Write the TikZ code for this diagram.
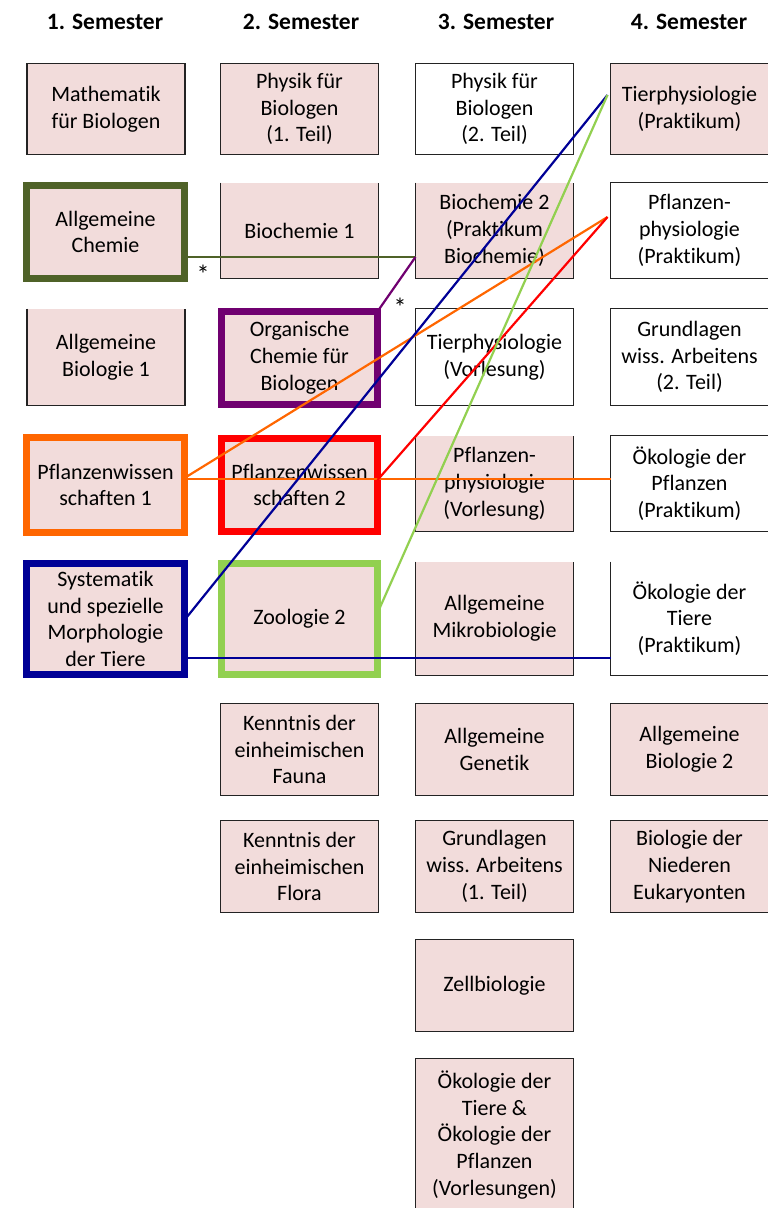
\documentclass[tikz,border=0pt]{standalone}
\usepackage{fontspec}
\setmainfont{Carlito}[Ligatures=NoCommon]
\usetikzlibrary{calc}
\definecolor{pinkfill}{RGB}{242,220,219}
\definecolor{olivec}{RGB}{79,98,40}
\definecolor{purplec}{RGB}{112,0,112}
\definecolor{orangec}{RGB}{255,102,0}
\definecolor{redc}{RGB}{255,0,0}
\definecolor{bluec}{RGB}{0,0,150}
\definecolor{greenc}{RGB}{146,208,80}
\definecolor{edgec}{RGB}{35,35,35}
\begin{document}
\begin{tikzpicture}[x=1pt,y=-1pt,
  every node/.style={inner sep=0pt, outer sep=0pt},
  cell/.style={minimum width=158pt, align=center, font=\fontsize{22}{26.8}\selectfont, text=black},
  pinkbox/.style={cell, fill=pinkfill, draw=edgec, line width=1.3pt},
  whitebox/.style={cell, fill=white, draw=edgec, line width=1.3pt},
  opentop/.style={cell, fill=pinkfill},
  opentopw/.style={cell, fill=white},
  sides/.style={draw=edgec, line width=1.3pt},
  thickbox/.style={cell, fill=pinkfill, draw=#1, line width=7pt},
  head/.style={font=\bfseries\fontsize{23.5}{28}\selectfont},
  star/.style={font=\fontsize{26}{28}\selectfont},
  link/.style={line width=2.2pt},
]
\useasboundingbox (0,0) rectangle (768,1208);

% headers
\node[head] (h1) at (105,22) {1. Semester};
\node[head] (h2) at (301,22) {2. Semester};
\node[head] (h3) at (496,22) {3. Semester};
\node[head] (h4) at (689,22) {4. Semester};

% column 1
\node[pinkbox, minimum height=91pt] (ma) at (106,109) {Mathematik\\für Biologen};
\node[thickbox=olivec, minimum height=93pt] (ac) at (105.5,232) {Allgemeine\\Chemie};
\node[opentop, minimum height=97pt] (ab1) at (106,357) {Allgemeine\\Biologie 1};
\node[thickbox=orangec, minimum height=95pt] (pw1) at (105.5,485) {Pflanzenwissen\\schaften 1};
\node[thickbox=bluec, minimum height=111pt] (sy) at (105.5,619) {Systematik\\und spezielle\\Morphologie\\der Tiere};

% column 2
\node[pinkbox, minimum height=91pt] (ph1) at (299.5,109) {Physik für\\Biologen\\(1. Teil)};
\node[opentop, minimum height=96pt] (bc1) at (299.5,230.5) {Biochemie 1};
\node[thickbox=purplec, minimum width=156pt, minimum height=93pt] (oc) at (299.5,358) {Organische\\Chemie für\\Biologen};
\node[thickbox=redc, minimum width=156pt, minimum height=93pt] (pw2) at (299.5,485) {Pflanzenwissen\\schaften 2};
\node[thickbox=greenc, minimum width=156pt, minimum height=111pt] (zo) at (299.5,619) {Zoologie 2};
\node[pinkbox, minimum height=92pt] (kfa) at (299.5,749.5) {Kenntnis der\\einheimischen\\Fauna};
\node[pinkbox, minimum height=92pt] (kfl) at (299.5,866.5) {Kenntnis der\\einheimischen\\Flora};

% column 3
\node[whitebox, minimum height=91pt] (ph2) at (494.5,109) {Physik für\\Biologen\\(2. Teil)};
\node[opentop, minimum height=96pt] (bc2) at (494.5,230.5) {Biochemie 2\\(Praktikum\\Biochemie)};
\node[whitebox, minimum height=97pt] (tpv) at (494.5,357) {Tierphysiologie\\(Vorlesung)};
\node[opentop, minimum height=96pt] (ppv) at (494.5,483.5) {Pflanzen-\\physiologie\\(Vorlesung)};
\node[opentop, minimum height=114pt] (mik) at (494.5,618.5) {Allgemeine\\Mikrobiologie};
\node[pinkbox, minimum height=92pt] (gen) at (494.5,749.5) {Allgemeine\\Genetik};
\node[pinkbox, minimum height=92pt] (gw1) at (494.5,866.5) {Grundlagen\\wiss. Arbeitens\\(1. Teil)};
\node[pinkbox, minimum height=92pt] (zb) at (494.5,985.5) {Zellbiologie};
\node[pinkbox, minimum height=153pt] (oek) at (494.5,1135) {Ökologie der\\Tiere \&\\Ökologie der\\Pflanzen\\(Vorlesungen)};

% column 4
\node[pinkbox, minimum height=91pt] (tp4) at (689.5,109) {Tierphysiologie\\(Praktikum)};
\node[whitebox, minimum height=96pt] (pp4) at (689.5,230.5) {Pflanzen-\\physiologie\\(Praktikum)};
\node[whitebox, minimum height=97pt] (gw2) at (689.5,357) {Grundlagen\\wiss. Arbeitens\\(2. Teil)};
\node[whitebox, minimum height=96pt] (op4) at (689.5,483.5) {Ökologie der\\Pflanzen\\(Praktikum)};
\node[opentopw, minimum height=114pt] (ot4) at (689.5,618.5) {Ökologie der\\Tiere\\(Praktikum)};
\node[pinkbox, minimum height=92pt] (ab2) at (689.5,749.5) {Allgemeine\\Biologie 2};
\node[pinkbox, minimum height=92pt] (ne) at (689.5,866.5) {Biologie der\\Niederen\\Eukaryonten};

% open-top boxes: three sides
\foreach \n in {ab1,bc1,bc2,ppv,mik,ot4}
  \draw[sides] (\n.north west) -- (\n.south west) -- (\n.south east) -- (\n.north east);

% connector end points
\coordinate (olA) at ($(ac.east)+(0,25)$);
\coordinate (olB) at (olA -| bc2.west);
\coordinate (tpIn) at ($(tp4.west)+(-3,-14)$);
\coordinate (ppIn) at ($(pp4.west)+(-3,-13.5)$);
\coordinate (syA) at ($(sy.east)+(0,1)$);
\coordinate (syB) at ($(sy.east)+(0,39)$);
\coordinate (pwA) at ($(pw1.east)+(0,-7)$);
\coordinate (pwB) at ($(pw1.east)+(0,-6)$);

% connectors
\draw[link, olivec, line width=2.8pt] (olA) -- (olB);
\draw[link, purplec] (oc.north east) -- (olB);
\draw[link, orangec] (pwA) -- (ppIn);
\draw[link, orangec] (pwB) -- (pwB -| op4.west);
\draw[link, redc] ($(pw2.east)+(0,-5)$) -- (ppIn);
\draw[link, bluec] (syA) -- (tpIn);
\draw[link, bluec, line width=2.8pt] (syB) -- (syB -| ot4.west);
\draw[link, greenc] ($(zo.east)+(0,-6)$) -- (tpIn);

% asterisks
\node[star] (s1) at (203,274) {*};
\node[star] (s2) at (400,307) {*};
\end{tikzpicture}
\end{document}
